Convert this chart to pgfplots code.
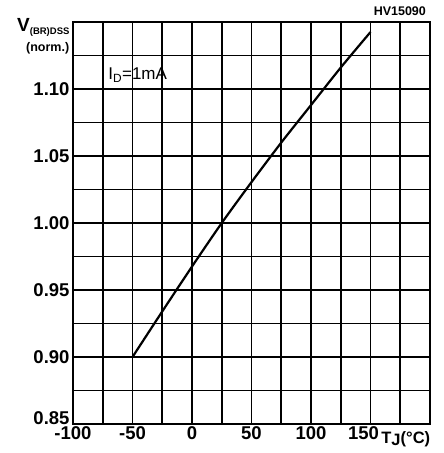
\documentclass[border=0pt]{standalone}
\usepackage{fontspec}
\setmainfont{Liberation Sans}
\usepackage{pgfplots}
\pgfplotsset{compat=1.18}
\begin{document}
\begin{tikzpicture}
\begin{axis}[
  at={(0,0)}, anchor=south west,
  scale only axis, width=357bp, height=402bp,
  xmin=-100, xmax=200, ymin=0.85, ymax=1.15,
  xtick={-100,-50,0,50,100,150},
  xticklabels={-100,-50,0,50,100,{\makebox[0pt][c]{150\hspace*{14bp}}}},
  minor xtick={-75,-25,25,75,125,175},
  ytick={0.85,0.90,0.95,1.00,1.05,1.10},
  yticklabels={{\raisebox{11bp}{0.85}},0.90,0.95,1.00,1.05,1.10},
  minor ytick={0.875,0.925,0.975,1.025,1.075,1.125},
  grid=both,
  major grid style={black, line width=1.8bp},
  minor grid style={black, line width=1.8bp},
  axis line style={black, line width=2.8bp},
  major tick length=0pt, minor tick length=0pt,
  /pgf/number format/assume math mode=true,
  ticklabel style={font=\fontsize{18.5bp}{21bp}\selectfont\bfseries},
  yticklabel shift=0bp,
  xticklabel shift=-1bp,
  clip=false,
]
\addplot[black, line width=2.2bp, smooth] coordinates {
  (-50,0.900) (-25,0.934) (0,0.9675) (25,1.000) (50,1.0305)
  (75,1.060) (100,1.088) (125,1.116) (150,1.1425)
};
\node[anchor=west, inner sep=0pt, font=\fontsize{17bp}{19bp}\selectfont] at (axis cs:-70.5,1.1105) {I\textsubscript{D}=1mA};
\node[anchor=south east, font=\fontsize{12.5bp}{13bp}\selectfont\bfseries, inner sep=0pt] at (rel axis cs:0.989,1.015) {HV15090};
\node[anchor=north west, font=\fontsize{16.5bp}{18bp}\selectfont\bfseries, inner sep=0pt] at (axis cs:159,0.8445) {T\raisebox{-1.5bp}{J}(°C)};
\node[anchor=north east, font=\fontsize{19bp}{21bp}\selectfont\bfseries, inner sep=0pt, align=right] at (rel axis cs:-0.008,1.01) {V\textsubscript{\fontsize{9.5bp}{11bp}\selectfont(BR)DSS}};
\node[anchor=north east, font=\fontsize{12.5bp}{13bp}\selectfont\bfseries, inner sep=0pt] at (rel axis cs:-0.01,0.95) {(norm.)};
\end{axis}
\pgfresetboundingbox
\path (-73bp,-29bp) rectangle (371bp,424bp);
\end{tikzpicture}
\end{document}
